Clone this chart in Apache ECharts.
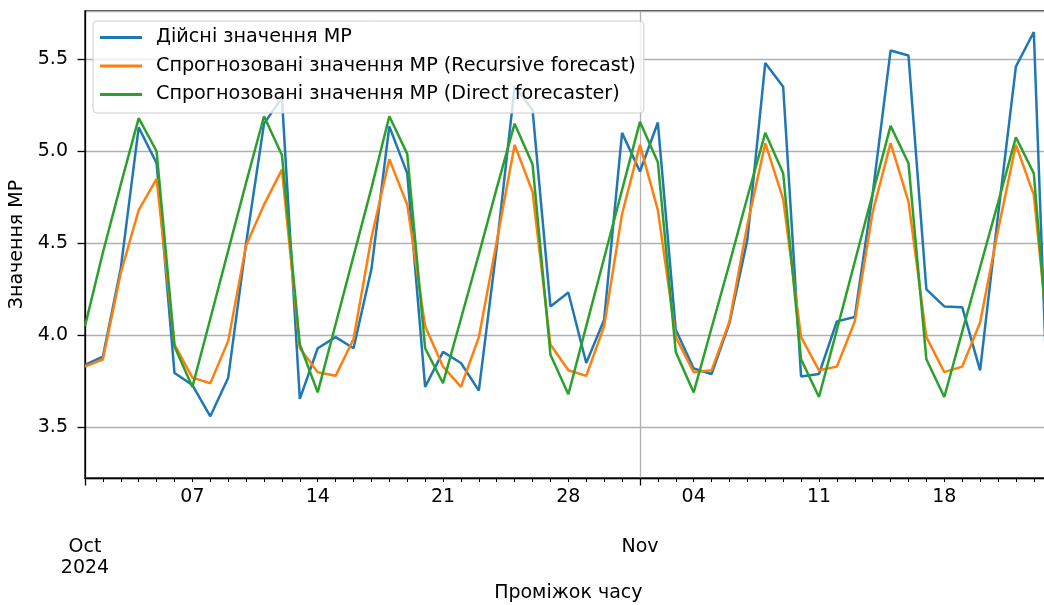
<!DOCTYPE html>
<html>
<head>
<meta charset="utf-8">
<script src="https://cdn.jsdelivr.net/npm/echarts@6/dist/echarts.min.js"></script>
<style>
html, body { margin: 0; padding: 0; background: #fff; }
#container { width: 1044px; height: 605px; }
</style>
</head>
<body>
<div id="container"></div>
<script>
// days from 2024-10-01 to 2024-11-24
var dates = [];
for (var i = 0; i < 55; i++) {
    dates.push(new Date(Date.UTC(2024, 9, 1 + i)).toISOString().slice(0, 10));
}

var weekTicks = ['2024-10-07', '2024-10-14', '2024-10-21', '2024-10-28', '2024-11-04', '2024-11-11', '2024-11-18'];
var weekLabels = ['07', '14', '21', '28', '04', '11', '18'];
var monthTicks = ['2024-10-01', '2024-11-01'];
var monthLabels = ['Oct\n2024', 'Nov'];

var seriesNames = ['Дійсні значення MP', 'Спрогнозовані значення MP (Recursive forecast)', 'Спрогнозовані значення MP (Direct forecaster)'];

var actual = [3.84, 3.885, 4.365, 5.13, 4.935, 3.795, 3.73, 3.56, 3.77, 4.50,
    5.15, 5.29, 3.655, 3.93, 3.99, 3.93, 4.36, 5.135, 4.88, 3.72,
    3.91, 3.85, 3.70, 4.48, 5.35, 5.225, 4.157, 4.233, 3.85, 4.085,
    5.10, 4.89, 5.156, 4.03, 3.82, 3.79, 4.067, 4.52, 5.48, 5.35,
    3.777, 3.79, 4.076, 4.10, 4.77, 5.547, 5.52, 4.25, 4.157, 4.153,
    3.81, 4.65, 5.46, 5.648, 3.0];

var recursive = [3.83, 3.87, 4.34, 4.68, 4.85, 3.95, 3.77, 3.74, 3.97, 4.49,
    4.71, 4.90, 3.93, 3.80, 3.78, 3.98, 4.53, 4.957, 4.71, 4.05,
    3.83, 3.72, 3.99, 4.51, 5.035, 4.78, 3.95, 3.81, 3.78, 4.05,
    4.66, 5.035, 4.68, 3.99, 3.80, 3.81, 4.075, 4.60, 5.044, 4.74,
    3.99, 3.81, 3.83, 4.075, 4.67, 5.044, 4.727, 3.99, 3.80, 3.83,
    4.07, 4.57, 5.035, 4.763, 3.80];

var direct = [4.05, 4.45, 4.82, 5.18, 5.00, 3.94, 3.72, 4.09, 4.46, 4.83,
    5.19, 4.98, 3.95, 3.69, 4.06, 4.43, 4.80, 5.19, 4.986, 3.93,
    3.74, 4.09, 4.44, 4.80, 5.15, 4.93, 3.895, 3.68, 4.05, 4.42,
    4.79, 5.16, 4.94, 3.91, 3.69, 4.04, 4.39, 4.75, 5.10, 4.88,
    3.87, 3.665, 4.03, 4.40, 4.77, 5.138, 4.935, 3.87, 3.665, 4.02,
    4.37, 4.72, 5.076, 4.88, 3.70];

var colors = ['#1f77b4', '#ff7f0e', '#2ca02c'];
var font = 'DejaVu Sans';
var fs = 19;

var myChart = echarts.init(document.getElementById('container'));
var option = {
    animation: false,
    color: colors,
    grid: {
        left: 85,
        right: -7.7,
        top: 11,
        bottom: 127,
        show: true,
        borderColor: '#000',
        borderWidth: 1.3,
        containLabel: false,
        outerBoundsMode: 'none'
    },
    legend: {
        orient: 'vertical',
        left: 93,
        top: 21,
        padding: [7, 8, 9, 7],
        icon: 'rect',
        itemWidth: 42,
        itemHeight: 2.8,
        itemGap: 9.5,
        backgroundColor: 'rgba(255,255,255,0.8)',
        borderColor: '#cccccc',
        borderWidth: 1,
        borderRadius: 4,
        textStyle: { fontFamily: font, fontSize: 19.2, color: '#000', padding: [0, 0, 0, 9] },
        data: seriesNames
    },
    xAxis: [
        {
            type: 'category',
            data: dates,
            boundaryGap: false,
            name: 'Проміжок часу',
            nameLocation: 'middle',
            nameGap: 106,
            nameTextStyle: { fontFamily: font, fontSize: fs, color: '#000' },
            axisLine: { lineStyle: { color: '#000', width: 1.3 } },
            axisTick: { interval: 0, length: 4, lineStyle: { color: '#000', width: 1 } },
            axisLabel: {
                interval: function (idx, val) { return weekTicks.indexOf(val) >= 0; },
                formatter: function (val) { return weekLabels[weekTicks.indexOf(val)]; },
                margin: 9.5,
                fontFamily: font,
                fontSize: fs,
                color: '#000'
            },
            splitLine: { show: false }
        },
        {
            type: 'category',
            data: dates,
            boundaryGap: false,
            position: 'bottom',
            axisLine: { show: false },
            axisTick: {
                interval: function (idx, val) { return monthTicks.indexOf(val) >= 0; },
                length: 7.5,
                lineStyle: { color: '#000', width: 1.3 }
            },
            axisLabel: {
                interval: function (idx, val) { return monthTicks.indexOf(val) >= 0; },
                formatter: function (val) { return monthLabels[monthTicks.indexOf(val)]; },
                margin: 59,
                lineHeight: 21,
                fontFamily: font,
                fontSize: fs,
                color: '#000'
            },
            splitLine: {
                show: true,
                interval: function (idx, val) { return val === monthTicks[1]; },
                lineStyle: { color: '#b0b0b0', width: 1.3 }
            }
        }
    ],
    yAxis: {
        type: 'value',
        min: 3.225,
        max: 5.762,
        splitNumber: 5,
        name: 'Значення MP',
        nameLocation: 'middle',
        nameGap: 52,
        nameTextStyle: { fontFamily: font, fontSize: fs, color: '#000' },
        axisLine: { show: true, lineStyle: { color: '#000', width: 1.3 } },
        axisTick: { show: true, length: 7.5, lineStyle: { color: '#000', width: 1.3 } },
        axisLabel: {
            showMinLabel: false,
            showMaxLabel: false,
            margin: 17,
            fontFamily: font,
            fontSize: fs,
            color: '#000',
            formatter: function (v) { return v.toFixed(1); }
        },
        splitLine: { show: true, lineStyle: { color: '#b0b0b0', width: 1.3 } }
    },
    series: [
        { name: seriesNames[0], type: 'line', data: actual, symbol: 'none', lineStyle: { width: 2.5 } },
        { name: seriesNames[1], type: 'line', data: recursive, symbol: 'none', lineStyle: { width: 2.5 } },
        { name: seriesNames[2], type: 'line', data: direct, symbol: 'none', lineStyle: { width: 2.5 } }
    ]
};
myChart.setOption(option);
</script>
</body>
</html>
